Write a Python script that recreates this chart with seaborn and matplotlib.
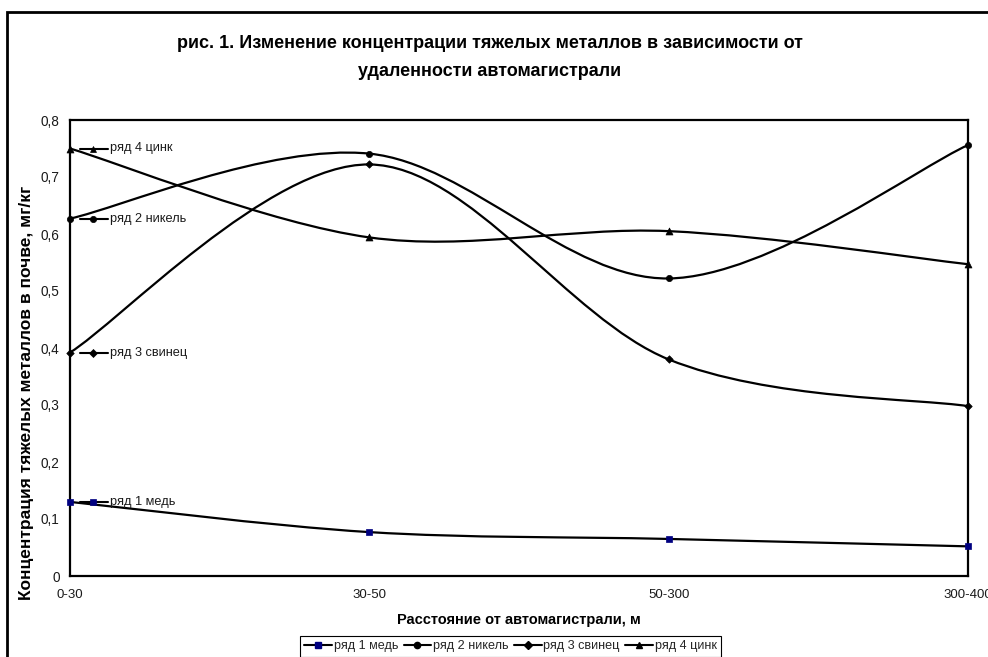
import numpy as np
import pandas as pd
import matplotlib
matplotlib.use("Agg")
import matplotlib.pyplot as plt
import matplotlib.transforms as mtransforms
from matplotlib.path import Path
from matplotlib.patches import PathPatch, Rectangle
from matplotlib.lines import Line2D
import seaborn as sns

# ---------------- data ----------------
categories = ["0-30", "30-50", "50-300", "300-400"]
series_names = ["ряд 1 медь", "ряд 2 никель", "ряд 3 свинец", "ряд 4 цинк"]
copper = [0.130, 0.077, 0.065, 0.052]
nickel = [0.627, 0.741, 0.522, 0.756]
lead = [0.392, 0.722, 0.380, 0.298]
zinc = [0.750, 0.594, 0.605, 0.547]
y_ticks = [0.0, 0.1, 0.2, 0.3, 0.4, 0.5, 0.6, 0.7, 0.8]
y_tick_labels = ["0", "0,1", "0,2", "0,3", "0,4", "0,5", "0,6", "0,7", "0,8"]

title = ("рис. 1. Изменение концентрации тяжелых металлов в зависимости от\n"
         "удаленности автомагистрали")
xlabel = "Расстояние от автомагистрали, м"
ylabel = "Концентрация тяжелых металлов в почве, мг/кг"

series_values = [copper, nickel, lead, zinc]
markers = {"ряд 1 медь": "s", "ряд 2 никель": "o", "ряд 3 свинец": "D", "ряд 4 цинк": "^"}
colors = {"ряд 1 медь": "#000080", "ряд 2 никель": "#000000",
          "ряд 3 свинец": "#000000", "ряд 4 цинк": "#000000"}
marker_sizes = {"ряд 1 медь": 4.2, "ряд 2 никель": 4.5, "ряд 3 свинец": 3.8, "ряд 4 цинк": 5.0}

rows = []
for name, vals in zip(series_names, series_values):
    for i, (cat, v) in enumerate(zip(categories, vals)):
        rows.append({"series": name, "category": cat, "pos": i, "value": v})
df = pd.DataFrame(rows)

# ---------------- style ----------------
sns.set_theme(style="white")
plt.rcParams["font.family"] = ["Liberation Sans", "DejaVu Sans"]

W, H = 988, 657
fig = plt.figure(figsize=(W / 100, H / 100), dpi=100)
ax_l, ax_r, ax_t, ax_b = 70, 968, 120, 576
ax = fig.add_axes([ax_l / W, (H - ax_b) / H, (ax_r - ax_l) / W, (ax_b - ax_t) / H])
ax.set_facecolor("white")


def smooth_path(xs, ys):
    """Excel-like smoothed line (cubic Bezier through the data points)."""
    n = len(xs)
    verts = [(xs[0], ys[0])]
    codes = [Path.MOVETO]
    for i in range(n - 1):
        x0, y0 = (xs[i - 1], ys[i - 1]) if i > 0 else (xs[i], ys[i])
        x1, y1 = xs[i], ys[i]
        x2, y2 = xs[i + 1], ys[i + 1]
        x3, y3 = (xs[i + 2], ys[i + 2]) if i + 2 < n else (xs[i + 1], ys[i + 1])
        c1 = (x1 + (x2 - x0) / 6.0, y1 + (y2 - y0) / 6.0)
        c2 = (x2 - (x3 - x1) / 6.0, y2 - (y3 - y1) / 6.0)
        verts += [c1, c2, (x2, y2)]
        codes += [Path.CURVE4] * 3
    return Path(verts, codes)


for name in series_names:
    sub = df[df["series"] == name]
    p = smooth_path(list(sub["pos"]), list(sub["value"]))
    ax.add_patch(PathPatch(p, facecolor="none", edgecolor="black", lw=1.6,
                           zorder=2, clip_on=False))

for name in series_names:
    sub = df[df["series"] == name]
    sns.scatterplot(data=sub, x="pos", y="value", marker=markers[name],
                    color=colors[name], s=marker_sizes[name] ** 2,
                    edgecolor=colors[name], linewidth=0.5, ax=ax,
                    zorder=3, clip_on=False, legend=False)

ax.set_xlim(0, 3)
ax.set_ylim(0, 0.8)
ax.set_xticks(range(len(categories)))
ax.set_xticklabels(categories, fontsize=9.5)
ax.set_yticks(y_ticks)
ax.set_yticklabels(y_tick_labels, fontsize=9.8)
ax.tick_params(axis="y", direction="inout", length=6, width=1.2, pad=4.5, colors="black")
ax.tick_params(axis="x", direction="inout", length=6, width=1.2, pad=6, colors="black")
ax.tick_params(labelcolor="#1a1a1a")
for sp in ax.spines.values():
    sp.set_visible(True)
    sp.set_color("black")
    sp.set_linewidth(1.6)

ax.set_xlabel(xlabel, fontsize=10.5, fontweight="bold", color="black")
ax.xaxis.set_label_coords((519 - ax_l) / (ax_r - ax_l), -(620 - ax_b) / (ax_b - ax_t))
ax.xaxis.label.set_va("center")
ax.set_ylabel(ylabel, fontsize=12.5, fontweight="bold", color="black")
ax.yaxis.set_label_coords(-(ax_l - 27) / (ax_r - ax_l), (ax_b - 393) / (ax_b - ax_t))
ax.yaxis.label.set_va("center")

# data labels with legend key at the first point
blend = mtransforms.blended_transform_factory(ax.transAxes, ax.transData)
aw = ax_r - ax_l
for name, vals in zip(series_names, series_values):
    v = vals[0]
    ax.add_line(Line2D([10 / aw, 38 / aw], [v, v], color="black", lw=1.5,
                       transform=blend, clip_on=False, zorder=4))
    ax.add_line(Line2D([23 / aw], [v], marker=markers[name], color=colors[name],
                       markersize=marker_sizes[name], markeredgewidth=0.5,
                       transform=blend, clip_on=False, zorder=5))
    ax.text(40 / aw, v, name, transform=blend, fontsize=9.2, va="center",
            ha="left", color="#1a1a1a", zorder=5)

# title
fig.text(490 / W, 1 - 57.5 / H, title, ha="center", va="center", fontsize=13,
         fontweight="bold", linespacing=1.78, color="black")

# legend
handles = [Line2D([0], [0], color="black", lw=1.5, marker=markers[n],
                  markerfacecolor=colors[n], markeredgecolor=colors[n],
                  markersize=marker_sizes[n]) for n in series_names]
leg = fig.legend(handles, series_names, loc="upper center", ncol=4,
                 bbox_to_anchor=(510.5 / W, 1 - 636 / H), fontsize=9.1,
                 frameon=True, fancybox=False, shadow=False, framealpha=1,
                 handlelength=2.2, handletextpad=0.15, columnspacing=0.4,
                 borderpad=0.35, borderaxespad=0)
leg.get_frame().set_edgecolor("black")
leg.get_frame().set_linewidth(0.8)

# outer chart frame
fig.patches.append(Rectangle((7 / W, -0.2), 1.2, 1.2 - 12 / H, transform=fig.transFigure,
                             fill=False, edgecolor="black", lw=2.0, zorder=0))

fig.savefig("out.png", dpi=100, facecolor="white")
